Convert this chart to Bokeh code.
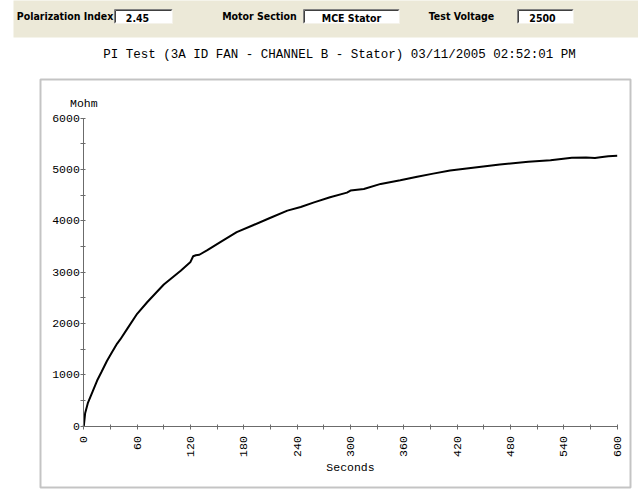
import math
from bokeh.plotting import figure
from bokeh.models import Range1d, FixedTicker, Label, BoxAnnotation, LinearAxis
from bokeh.embed import file_html
from bokeh.resources import INLINE

# ---------------- data ----------------
seconds = [0, 1.5, 4.5, 10, 15, 20, 26, 32, 37.5, 41, 49, 60, 71.5, 90, 109, 120, 123, 126,
           130, 139, 154, 172, 191, 210, 229, 244, 259, 277, 296, 300, 315, 334,
           356, 375, 393, 412, 440, 468, 500, 525, 549, 565, 575, 581, 590, 600]
mohm = [0, 250, 448, 680, 890, 1060, 1270, 1450, 1610, 1690, 1900, 2190, 2420, 2760, 3030, 3200, 3310, 3330,
        3340, 3430, 3590, 3780, 3920, 4060, 4200, 4270, 4360, 4460, 4550, 4590, 4620, 4720,
        4790, 4860, 4920, 4980, 5040, 5100, 5150, 5180, 5230, 5235, 5225, 5240, 5260, 5268]

x_ticks = [0, 60, 120, 180, 240, 300, 360, 420, 480, 540, 600]
x_minor = [30, 90, 150, 210, 270, 330, 390, 450, 510, 570]
y_ticks = [0, 1000, 2000, 3000, 4000, 5000, 6000]
y_minor = [500, 1500, 2500, 3500, 4500, 5500]

title_text = "PI Test (3A ID FAN - CHANNEL B - Stator) 03/11/2005 02:52:01 PM"
field_labels = ["Polarization Index", "Motor Section", "Test Voltage"]
field_values = ["2.45", "MCE Stator", "2500"]

# ---------------- layout (canvas pixels) ----------------
W, H = 638, 489
AX0, AX1 = 83.3, 616.7     # canvas x of x=0 and x=max
AY0, AY1 = 425.7, 117.7    # canvas y of y=0 and y=max
XMAX, YMAX = x_ticks[-1], y_ticks[-1]
sx = (AX1 - AX0) / XMAX
sy = (AY0 - AY1) / YMAX


def dx(px):
    return (px - AX0) / sx


def dy(py):
    return (AY0 - py) / sy


p = figure(width=W, height=H,
           x_range=Range1d(dx(0), dx(W)), y_range=Range1d(dy(H), dy(0)),
           output_backend="svg", toolbar_location=None,
           x_axis_location=None, y_axis_location=None,
           min_border=0, min_border_left=0, min_border_right=0,
           min_border_top=0, min_border_bottom=0,
           background_fill_color="white", border_fill_color="white",
           outline_line_color=None)
p.xgrid.visible = False
p.ygrid.visible = False

AXC = "#6b6b6b"
xaxis = LinearAxis(fixed_location=0, bounds=(0, XMAX),
                   ticker=FixedTicker(ticks=x_ticks, minor_ticks=x_minor))
yaxis = LinearAxis(fixed_location=0, bounds=(0, YMAX),
                   ticker=FixedTicker(ticks=y_ticks, minor_ticks=y_minor))
for ax in (xaxis, yaxis):
    ax.axis_line_color = AXC
    ax.major_tick_line_color = AXC
    ax.minor_tick_line_color = AXC
    ax.major_tick_in = 2
    ax.major_tick_out = 3
    ax.minor_tick_in = 2
    ax.minor_tick_out = 3
    ax.major_label_text_font = "Liberation Mono"
    ax.major_label_text_font_size = "11.5px"
    ax.major_label_text_color = "black"
    ax.axis_label_text_font = "Liberation Mono"
    ax.axis_label_text_font_size = "11.5px"
    ax.axis_label_text_font_style = "normal"
    ax.axis_label_text_color = "black"
xaxis.major_label_orientation = math.pi / 2
xaxis.major_label_standoff = 7
xaxis.axis_label = "Seconds"
xaxis.axis_label_standoff = 1
yaxis.major_label_standoff = 1
p.add_layout(xaxis, "below")
p.add_layout(yaxis, "left")

# top band (drawn first, as glyphs)
p.quad(left=[dx(13)], right=[dx(W + 20)], top=[dy(-20)], bottom=[dy(37)],
       fill_color="#ECE9D8", line_color=None)
box_lr = [(114, 172), (303, 399), (517, 573)]
BT, BB = 9, 23
p.quad(left=[dx(l) for l, r in box_lr], right=[dx(r) for l, r in box_lr],
       top=[dy(BT)] * 3, bottom=[dy(BB)] * 3, fill_color="white", line_color=None)
# sunken edges: dark top/left, light bottom/right
p.multi_line(xs=[[dx(l), dx(l), dx(r)] for l, r in box_lr],
             ys=[[dy(BB), dy(BT), dy(BT)]] * 3, line_color="#808080", line_width=1)
p.multi_line(xs=[[dx(l + 1), dx(l + 1), dx(r - 1)] for l, r in box_lr],
             ys=[[dy(BB - 1), dy(BT + 1), dy(BT + 1)]] * 3, line_color="#404040", line_width=1)
p.multi_line(xs=[[dx(l), dx(r), dx(r)] for l, r in box_lr],
             ys=[[dy(BB), dy(BB), dy(BT)]] * 3, line_color="#f4f2ea", line_width=1)

BAND_FONT = "DejaVu Sans Condensed"
label_cx = [64.5, 259, 461]
value_cx = [137, 351, 542]
for lab, cx in zip(field_labels, label_cx):
    p.add_layout(Label(x=dx(cx), y=dy(15), text=lab, text_align="center", text_baseline="middle",
                       text_font=BAND_FONT, text_font_style="bold",
                       text_font_size="10.5px", text_color="black"))
for val, cx in zip(field_values, value_cx):
    p.add_layout(Label(x=dx(cx), y=dy(17), text=val, text_align="center", text_baseline="middle",
                       text_font=BAND_FONT, text_font_style="bold",
                       text_font_size="10.5px", text_color="black"))

# the curve
p.line(seconds, mohm, line_color="black", line_width=2)

# title
p.add_layout(Label(x=dx(339), y=dy(54), text=title_text, text_align="center",
                   text_baseline="middle", text_font="Liberation Mono",
                   text_font_size="12.5px", text_color="black"))

# y unit label
p.add_layout(Label(x=0, y=dy(103), text="Mohm", text_align="center", text_baseline="middle",
                   text_font="Liberation Mono", text_font_size="11.5px", text_color="black"))

# chart enclosure
p.add_layout(BoxAnnotation(left=dx(40), right=dx(630), top=dy(79), bottom=dy(487),
                           fill_alpha=0, line_color="#3a3a3a", line_width=2))

open("out.html", "w").write(file_html(p, INLINE))
